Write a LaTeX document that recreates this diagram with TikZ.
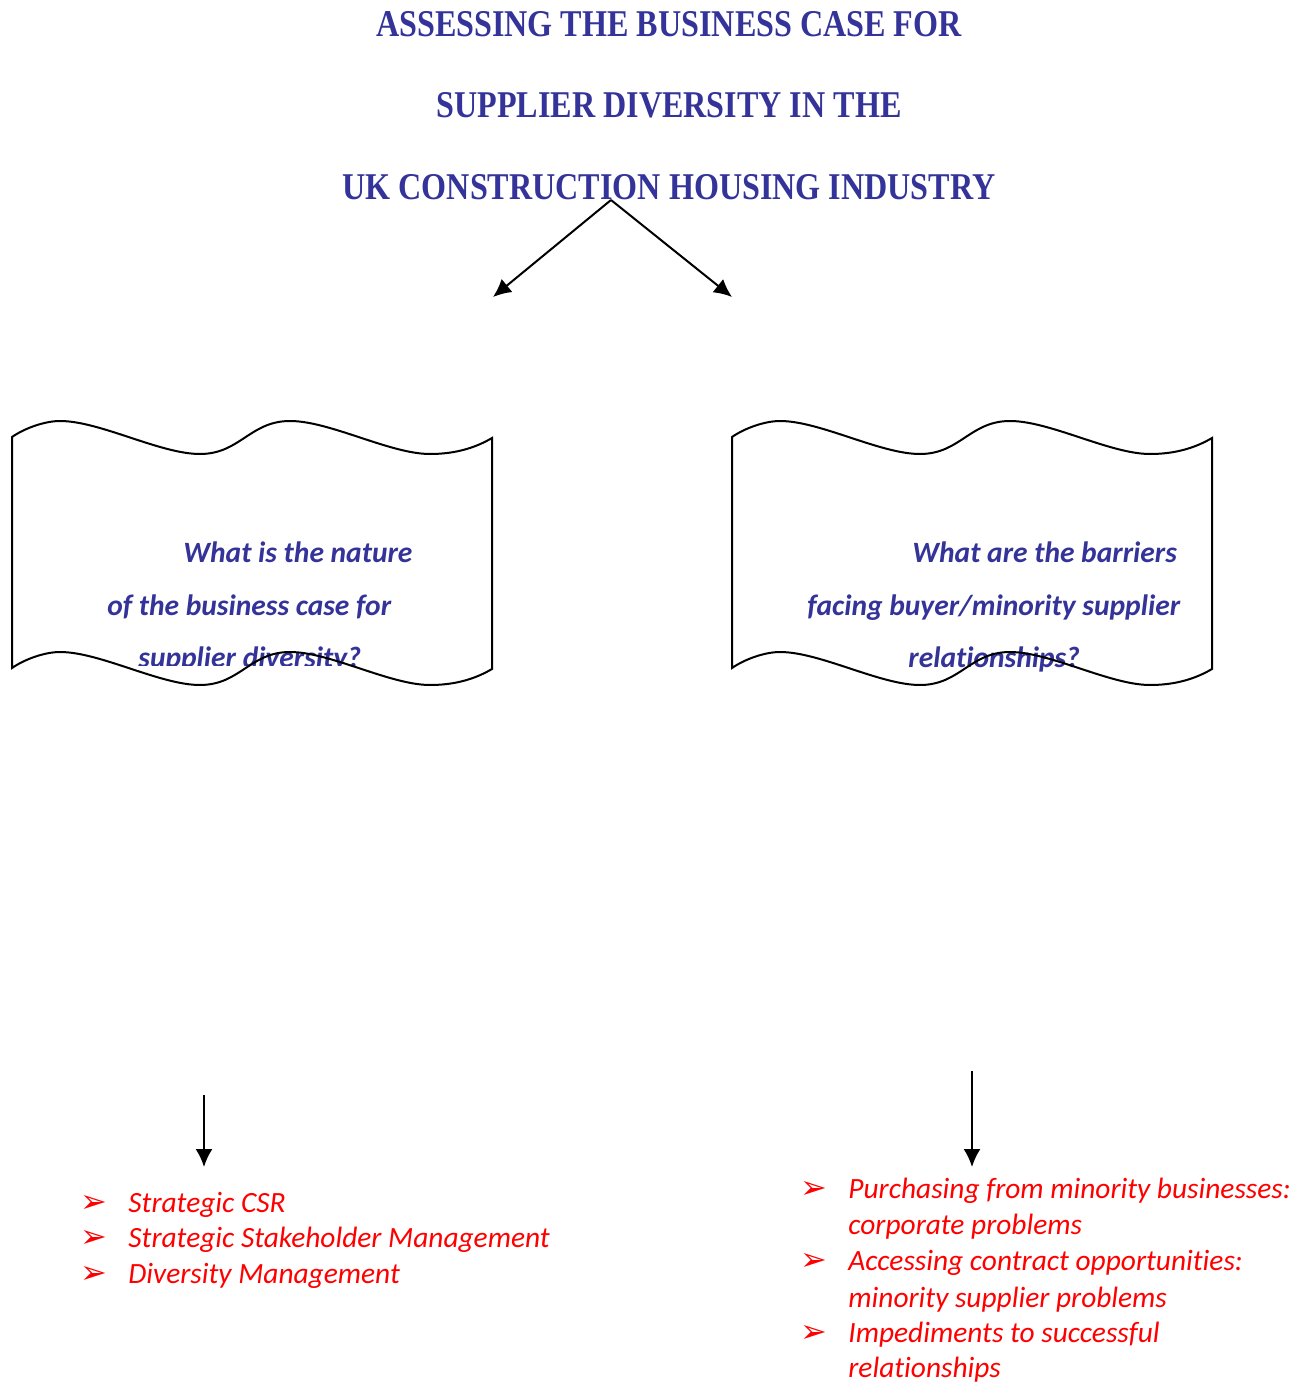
\documentclass[tikz,border=0pt]{standalone}
\usepackage{fontspec}
\usepackage{tikz}
\usetikzlibrary{arrows.meta,positioning}
\setmainfont[Ligatures=NoCommon]{Carlito}
\newfontfamily\titlefont[FakeStretch=0.85]{Liberation Serif}
\newfontfamily\bulletfont{DejaVu Sans}
\definecolor{ttlblue}{RGB}{51,51,153}
\definecolor{itemred}{RGB}{255,0,0}
\tikzset{
  arrow/.style={line width=1pt,-{Latex[length=9pt,width=8.5pt]}},
  ttl/.style={font=\titlefont\fontsize{18.9}{20}\selectfont\bfseries, text=ttlblue, inner sep=0pt, anchor=base},
  qline/.style={font=\fontsize{14.75}{16}\selectfont\bfseries\itshape, text=ttlblue, inner sep=0pt, anchor=base west},
  item/.style={font=\fontsize{14.7}{16}\selectfont\itshape, text=itemred, inner sep=0pt, anchor=base west},
  tick/.style={font=\bulletfont\fontsize{16}{17}\selectfont, text=itemred, inner sep=0pt, anchor=base west},
  banner/.pic={
    \draw[line width=1pt] (0,0) .. controls (13,-9) and (33,-16) .. (48,-16)
      .. controls (88,-16) and (148,17) .. (188,17)
      .. controls (228,17) and (238,-16) .. (278,-16)
      .. controls (318,-16) and (378,17) .. (418,17)
      .. controls (443,17) and (463,11) .. (480,1) -- (480,232)
      .. controls (463,242) and (443,248) .. (418,248)
      .. controls (378,248) and (318,215) .. (278,215)
      .. controls (238,215) and (228,248) .. (188,248)
      .. controls (148,248) and (88,215) .. (48,215)
      .. controls (33,215) and (13,222) .. (0,231) -- cycle;
  }
}

\begin{document}
\begin{tikzpicture}[x=0.5pt, y=-0.5pt]
\useasboundingbox (0,0) rectangle (1308,1385);

% Title
\node[ttl] (ttl1) at (669,37) {ASSESSING THE BUSINESS CASE FOR};
\node[ttl] (ttl2) at (669,118) {SUPPLIER DIVERSITY IN THE};
\node[ttl] (ttl3) at (669,200) {UK CONSTRUCTION HOUSING INDUSTRY};

% Split arrows
\coordinate (fork) at (611,200);
\coordinate (leftq) at (493,297);
\coordinate (rightq) at (732,297);
\draw[arrow] (fork) -- (leftq);
\draw[arrow] (fork) -- (rightq);

% Left question
\node[qline] (lq1) at (183,562) {What is the nature};
\node[qline] (lq2) at (107,615) {of the business case for};
\begin{scope}
\clip (0,0) rectangle (1308,665);
\node[qline] (lq3) at (138,667) {supplier diversity?};
\end{scope}
\pic at (12,437) {banner};

% Right question
\node[qline] (rq1) at (912,562) {What are the barriers};
\node[qline] (rq2) at (807,615) {facing buyer/minority supplier};
\node[qline] (rq3) at (908,667) {relationships?};
\pic at (732,437) {banner};

% Down arrows
\coordinate (lfrom) at (204,1095);
\coordinate (lto) at (204,1167);
\coordinate (rfrom) at (972,1071);
\coordinate (rto) at (972,1167);
\draw[arrow] (lfrom) -- (lto);
\draw[arrow] (rfrom) -- (rto);

% Left list
\node[tick] (lb1) at (80,1212) {➢};
\node[item] (li1) at (128,1212) {Strategic CSR};
\node[tick] (lb2) at (80,1247) {➢};
\node[item] (li2) at (128,1247) {Strategic Stakeholder Management};
\node[tick] (lb3) at (80,1283) {➢};
\node[item] (li3) at (128,1283) {Diversity Management};

% Right list
\node[tick] (rb1) at (800,1198) {➢};
\node[item] (ri1) at (848,1198) {Purchasing from minority businesses:};
\node[item] (ri1b) at (848,1234) {corporate problems};
\node[tick] (rb2) at (800,1270) {➢};
\node[item] (ri2) at (848,1270) {Accessing contract opportunities:};
\node[item] (ri2b) at (848,1307) {minority supplier problems};
\node[tick] (rb3) at (800,1342) {➢};
\node[item] (ri3) at (848,1342) {Impediments to successful};
\node[item] (ri3b) at (848,1377) {relationships};
\end{tikzpicture}
\end{document}
